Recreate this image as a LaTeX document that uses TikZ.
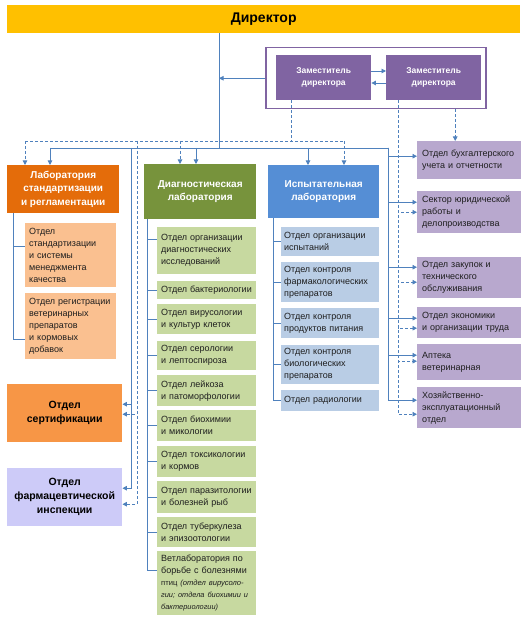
\documentclass[tikz,border=0pt]{standalone}
\usepackage{fontspec}
\setmainfont{Liberation Sans}
\usetikzlibrary{arrows.meta,calc}
\definecolor{lc}{RGB}{79,129,189}
\definecolor{dirc}{RGB}{255,192,0}
\definecolor{depc}{RGB}{128,100,162}
\definecolor{rpur}{RGB}{184,168,206}
\definecolor{labo}{RGB}{228,108,10}
\definecolor{subo}{RGB}{250,192,144}
\definecolor{certc}{RGB}{247,150,70}
\definecolor{pharmc}{RGB}{205,203,248}
\definecolor{diagc}{RGB}{119,147,60}
\definecolor{subg}{RGB}{199,217,160}
\definecolor{testc}{RGB}{85,142,213}
\definecolor{subb}{RGB}{185,205,229}
\definecolor{txt}{RGB}{30,30,30}
\begin{document}
\begin{tikzpicture}[x=1bp,y=-1bp,
 conn/.style={draw=lc, line width=0.9bp},
 dconn/.style={conn, dash pattern=on 3bp off 2bp},
 arr/.style={-{Triangle[length=4.5bp,width=4.5bp]}},
 bx/.style={rectangle, inner sep=0pt, anchor=north west, draw=none},
 hdr/.style={bx, text=white, font=\bfseries\fontsize{10bp}{13.5bp}\selectfont, align=center},
 dep/.style={bx, fill=depc, text=white, font=\bfseries\fontsize{8.5bp}{12bp}\selectfont, align=center, minimum width=95bp, minimum height=45bp},
 sub/.style={bx, text=txt, font=\fontsize{9bp}{12bp}\selectfont, align=left, inner xsep=4bp},
 osub/.style={sub, fill=subo, text width=83bp},
 gsub/.style={sub, fill=subg, text width=91bp},
 bsub/.style={sub, fill=subb, text width=92bp, inner xsep=3bp},
 rsub/.style={sub, fill=rpur, text width=94bp, inner xsep=5bp},
]
\useasboundingbox (0,0) rectangle (527,617);
\fill[white] (0,0) rectangle (527,617);

% top
\node[bx, fill=dirc, minimum width=513bp, minimum height=28bp, font=\bfseries\fontsize{14bp}{16bp}\selectfont] (dir) at (7,5) {Директор};
\node[bx, draw=depc, line width=1.5bp, minimum width=220bp, minimum height=61bp] (outer) at (265,47) {};
\node[dep] (dep1) at (276,55) {Заместитель\\директора};
\node[dep] (dep2) at (386,55) {Заместитель\\директора};

% left column
\node[hdr, fill=labo, minimum width=112bp, minimum height=48bp] (labstd) at (7,165) {Лаборатория\\стандартизации\\и регламентации};
\node[osub, minimum height=64bp] (os1) at (25,223) {Отдел\\стандартизации\\и системы\\менеджмента\\качества};
\node[osub, minimum height=66bp] (os2) at (25,293) {Отдел регистрации\\ветеринарных\\препаратов\\и кормовых\\добавок};
\node[bx, fill=certc, text=black, align=center, font=\bfseries\fontsize{10.5bp}{14bp}\selectfont, minimum width=115bp, minimum height=58bp] (cert) at (7,384) {Отдел\\сертификации};
\node[bx, fill=pharmc, text=black, align=center, font=\bfseries\fontsize{10.5bp}{14bp}\selectfont, minimum width=115bp, minimum height=58bp] (pharm) at (7,468) {Отдел\\фармацевтической\\инспекции};

% diagnostic
\node[hdr, fill=diagc, minimum width=112bp, minimum height=55bp] (diag) at (144,164) {Диагностическая\\лаборатория};
\node[gsub, minimum height=47bp] (g1) at (157,227) {Отдел организации\\диагностических\\исследований};
\node[gsub, minimum height=18bp] (g2) at (157,281) {Отдел бактериологии};
\node[gsub, minimum height=30bp] (g3) at (157,304) {Отдел вирусологии\\и культур клеток};
\node[gsub, minimum height=29bp] (g4) at (157,341) {Отдел серологии\\и лептоспироза};
\node[gsub, minimum height=31bp] (g5) at (157,375) {Отдел лейкоза\\и патоморфологии};
\node[gsub, minimum height=31bp] (g6) at (157,410) {Отдел биохимии\\и микологии};
\node[gsub, minimum height=31bp] (g7) at (157,446) {Отдел токсикологии\\и кормов};
\node[gsub, minimum height=32bp] (g8) at (157,481) {Отдел паразитологии\\и болезней рыб};
\node[gsub, minimum height=30bp] (g9) at (157,517) {Отдел туберкулеза\\и эпизоотологии};
\node[gsub, minimum height=64bp, text width=95bp, inner xsep=2bp] (g10) at (157,551) {\hspace*{2bp}Ветлаборатория по\\\hspace*{2bp}борьбе с болезнями\\{\fontsize{7.6bp}{11bp}\selectfont\hspace*{2bp}птиц \textit{(отдел вирусоло-}}\\{\fontsize{7.4bp}{11bp}\selectfont\itshape\hspace*{2bp}гии; отдела биохимии и}\\{\fontsize{7.4bp}{11bp}\selectfont\itshape\hspace*{2bp}бактериологии)}};

% test lab
\node[hdr, fill=testc, minimum width=111bp, minimum height=53bp] (test) at (268,165) {Испытательная\\лаборатория};
\node[bsub, minimum height=29bp] (b1) at (281,227) {Отдел организации\\испытаний};
\node[bsub, minimum height=40bp] (b2) at (281,262) {Отдел контроля\\фармакологических\\препаратов};
\node[bsub, minimum height=30bp] (b3) at (281,308) {Отдел контроля\\продуктов питания};
\node[bsub, minimum height=39bp] (b4) at (281,345) {Отдел контроля\\биологических\\препаратов};
\node[bsub, minimum height=21bp] (b5) at (281,390) {Отдел радиологии};

% right column
\node[rsub, minimum height=38bp] (r1) at (417,141) {Отдел бухгалтерского\\учета и отчетности};
\node[rsub, minimum height=42bp] (r2) at (417,191) {Сектор юридической\\работы и\\делопроизводства};
\node[rsub, minimum height=41bp] (r3) at (417,257) {Отдел закупок и\\технического\\обслуживания};
\node[rsub, minimum height=31bp] (r4) at (417,307) {Отдел экономики\\и организации труда};
\node[rsub, minimum height=36bp] (r5) at (417,344) {Аптека\\ветеринарная};
\node[rsub, minimum height=41bp] (r6) at (417,387) {Хозяйственно-\\эксплуатационный\\отдел};

% ---- solid connectors
\coordinate (J) at (219,148);
\coordinate (BL) at (50,148);
\coordinate (BR) at (388,148);
\coordinate (sl) at (131,148);
\coordinate (sd) at (196,148);
\coordinate (st) at (308,148);
\draw[conn] (dir.south -| J) -- (J);
\draw[conn,arr] (outer.west) -- (J |- outer.west);
\draw[conn,arr] (dep1.east |- 0,71) -- (dep2.west |- 0,71);
\draw[conn,arr] (dep2.west |- 0,83) -- (dep1.east |- 0,83);
\draw[conn] (BL) -- (BR);
\draw[conn,arr] (BL) -- (BL |- labstd.north);
\draw[conn,arr] (sd) -- (sd |- diag.north);
\draw[conn,arr] (st) -- (st |- test.north);
\draw[conn,arr] (sl) |- ([yshift=9bp]cert.east);
\draw[conn,arr] (sl) |- ([yshift=9bp]pharm.east);
\draw[conn,arr] (BR) |- ([yshift=4bp]r1.west);
\draw[conn,arr] (BR) |- ([yshift=10bp]r2.west);
\draw[conn,arr] (BR) |- ([yshift=10.5bp]r3.west);
\draw[conn,arr] (BR) |- ([yshift=4.5bp]r4.west);
\draw[conn,arr] (BR) |- ([yshift=7bp]r5.west);
\draw[conn,arr] (BR) |- ([yshift=7.5bp]r6.west);

% sub-unit ticks
\coordinate (lv) at ([xshift=6bp]labstd.south west);
\draw[conn] (lv) |- ([yshift=9bp]os1.west);
\draw[conn] (lv) |- ([yshift=-13bp]os2.west);
\coordinate (gv) at ([xshift=3bp]diag.south west);
\draw[conn] (gv) |- ([yshift=11.5bp]g1.west);
\foreach \n in {g2,g3,g4,g5,g6,g7,g8,g9} \draw[conn] (gv) |- (\n.west);
\draw[conn] (gv) |- ([yshift=13bp]g10.west);
\coordinate (bv) at ([xshift=5bp]test.south west);
\foreach \n in {b1,b2,b3,b4,b5} \draw[conn] (bv) |- (\n.west);

% ---- dashed connectors
\coordinate (DL) at (25,141);
\coordinate (DR) at (344,141);
\coordinate (d1) at (291,141);
\coordinate (dl2) at (137,141);
\coordinate (dd3) at (180,141);
\draw[dconn] (d1 |- dep1.south) -- (d1);
\draw[dconn] (DL) -- (DR);
\draw[dconn,arr] (DL) -- (DL |- labstd.north);
\draw[dconn,arr] (dd3) -- (dd3 |- diag.north);
\draw[dconn,arr] (DR) -- (DR |- test.north);
\draw[dconn,arr] (dl2) |- ([yshift=-1bp]cert.east);
\draw[dconn,arr] (dl2) |- ([yshift=-7bp]pharm.east);
\coordinate (d2) at ([xshift=-35.5bp]dep2.south);
\draw[dconn,arr] (d2) |- (r2.west);
\draw[dconn,arr] (d2) |- ([yshift=-4.5bp]r3.west);
\draw[dconn,arr] (d2) |- ([yshift=-5.5bp]r4.west);
\draw[dconn,arr] (d2) |- ([yshift=1bp]r5.west);
\draw[dconn,arr] (d2) |- ([yshift=-6.5bp]r6.west);
\coordinate (r1n) at ([xshift=-14bp]r1.north);
\draw[dconn,arr] (r1n |- outer.south) -- (r1n);
\end{tikzpicture}
\end{document}
